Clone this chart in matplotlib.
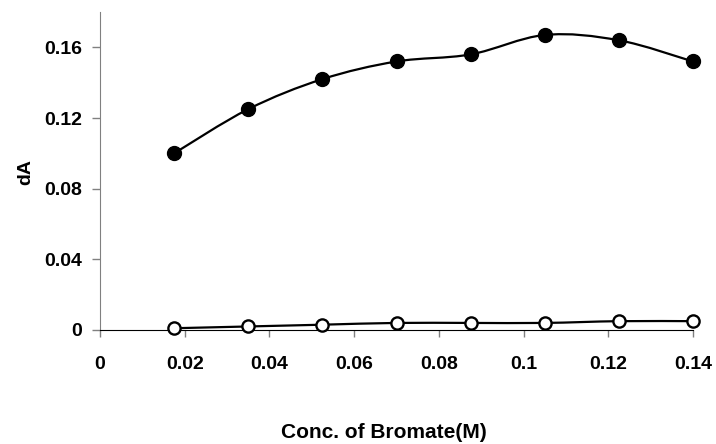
import numpy as np
import matplotlib.pyplot as plt
from matplotlib.path import Path
from matplotlib.patches import PathPatch

plt.rcParams['font.family'] = 'Liberation Sans'
plt.rcParams['font.weight'] = 'bold'

# Data
conc = [0.0175, 0.035, 0.0525, 0.07, 0.0875, 0.105, 0.1225, 0.14]
dA_filled = [0.100, 0.125, 0.142, 0.152, 0.156, 0.167, 0.164, 0.152]
dA_open = [0.001, 0.002, 0.003, 0.004, 0.004, 0.004, 0.005, 0.005]

xticks = [0, 0.02, 0.04, 0.06, 0.08, 0.1, 0.12, 0.14]
yticks = [0, 0.04, 0.08, 0.12, 0.16]


def smooth_path(x, y):
    # Excel-like smoothed line: Catmull-Rom style cubic beziers
    pts = np.column_stack([x, y])
    n = len(pts)
    verts = [pts[0]]
    codes = [Path.MOVETO]
    for i in range(n - 1):
        p0 = pts[i - 1] if i > 0 else pts[i]
        p1 = pts[i]
        p2 = pts[i + 1]
        p3 = pts[i + 2] if i + 2 < n else pts[i + 1]
        c1 = p1 + (p2 - p0) / 6.0
        c2 = p2 - (p3 - p1) / 6.0
        verts += [c1, c2, p2]
        codes += [Path.CURVE4] * 3
    return Path(verts, codes)


fig = plt.figure(figsize=(7.16, 4.44), dpi=100)
ax = fig.add_axes([100 / 716, 1 - 330 / 444, 593 / 716, 318 / 444])

for yy in [dA_filled, dA_open]:
    ax.add_patch(PathPatch(smooth_path(conc, yy), facecolor='none',
                           edgecolor='black', lw=1.6, zorder=2, clip_on=False))
ax.plot(conc, dA_filled, 'o', color='black', markersize=10, zorder=3,
        clip_on=False)
ax.plot(conc, dA_open, 'o', markerfacecolor='white', markeredgecolor='black',
        markersize=8.8, markeredgewidth=1.7, zorder=3, clip_on=False)

ax.set_xlim(0, 0.14)
ax.set_ylim(0, 0.18)
ax.set_xticks(xticks)
ax.set_xticklabels(['%g' % v for v in xticks])
ax.set_yticks(yticks)
ax.set_yticklabels(['%g' % v for v in yticks])

ax.spines['top'].set_visible(False)
ax.spines['right'].set_visible(False)
ax.spines['left'].set_color('#808080')
ax.spines['bottom'].set_color('black')
ax.tick_params(axis='y', direction='out', length=6, width=1, color='#808080',
               pad=7, labelsize=14)
ax.tick_params(axis='x', direction='out', length=5, width=1, color='#808080',
               pad=14, labelsize=14)

fig.text(384 / 716, 1 - 432 / 444, 'Conc. of Bromate(M)', ha='center',
         va='center', fontsize=15, fontweight='bold')
fig.text(26 / 716, 1 - 172 / 444, 'dA', ha='center', va='center',
         rotation=90, fontsize=14, fontweight='bold')

fig.savefig('out.png', dpi=100)
